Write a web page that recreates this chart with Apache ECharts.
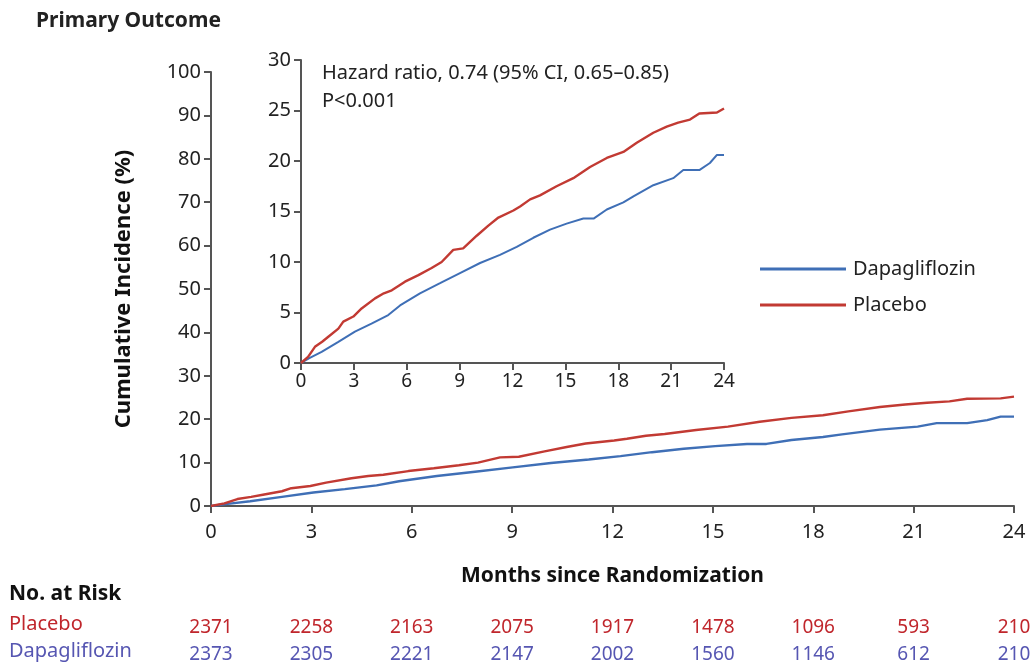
<!DOCTYPE html>
<html>
<head>
<meta charset="utf-8">
<script src="https://cdn.jsdelivr.net/npm/echarts@6/dist/echarts.min.js"></script>
<style>
  html, body { margin: 0; padding: 0; background: #fff; }
  #chart { width: 1036px; height: 671px; }
</style>
</head>
<body>
<div id="chart"></div>
<script>
// Cumulative incidence of the primary outcome, [month, percent]
const placeboCurve = [
  [0, 0], [0.4, 0.6], [0.79, 1.6], [1.2, 2.1], [1.55, 2.6], [2.12, 3.4], [2.4, 4.1],
  [2.97, 4.6], [3.44, 5.4], [4.2, 6.4], [4.7, 6.9], [5.15, 7.2], [5.9, 8.05], [6.66, 8.7],
  [7.41, 9.4], [7.98, 10.0], [8.64, 11.2], [9.2, 11.35], [9.97, 12.6], [10.63, 13.6],
  [11.2, 14.4], [12.05, 15.1], [12.43, 15.5], [13.0, 16.2], [13.56, 16.6], [14.5, 17.5],
  [15.45, 18.3], [16.4, 19.4], [17.35, 20.3], [18.29, 20.9], [19.05, 21.8], [19.99, 22.8],
  [20.75, 23.4], [21.4, 23.8], [22.07, 24.1], [22.6, 24.7], [23.6, 24.8], [24, 25.2]
];
const dapagliflozinCurve = [
  [0, 0], [0.5, 0.5], [1.17, 1.1], [2.12, 2.1], [3.06, 3.1], [4.0, 3.9], [4.95, 4.75],
  [5.62, 5.7], [6.75, 6.9], [7.89, 7.9], [9.02, 8.9], [10.16, 9.9], [11.29, 10.7],
  [12.24, 11.5], [13.18, 12.4], [14.13, 13.2], [15.07, 13.8], [16.02, 14.3],
  [16.6, 14.3], [17.35, 15.2], [18.29, 15.9], [18.86, 16.5], [19.99, 17.6], [21.12, 18.3],
  [21.69, 19.1], [22.6, 19.1], [23.2, 19.8], [23.6, 20.6], [24, 20.6]
];

// Number at risk at each 3-month tick (0..24)
const monthTicks = [0, 3, 6, 9, 12, 15, 18, 21, 24];
const placeboAtRisk = [2371, 2258, 2163, 2075, 1917, 1478, 1096, 593, 210];
const dapagliflozinAtRisk = [2373, 2305, 2221, 2147, 2002, 1560, 1146, 612, 210];

const RED = '#c23a33';
const BLUE = '#3f6fb6';
const RISK_RED = '#c0262c';
const RISK_BLUE = '#5656b2';
const AXIS = '#555';
const TEXT = '#222';
const SANS = "'Noto Sans', 'Open Sans', sans-serif";

function atRiskLabel(arr) {
  return function (v) {
    const i = monthTicks.indexOf(v);
    return i >= 0 ? String(arr[i]) : '';
  };
}

const baseAxisLine = { show: true, lineStyle: { color: AXIS, width: 2 } };
const baseTick = { show: true, length: 7, lineStyle: { color: AXIS, width: 2 } };

const chart = echarts.init(document.getElementById('chart'), null, { renderer: 'canvas' });

chart.setOption({
  backgroundColor: '#fff',
  animation: false,
  title: {
    text: 'Primary Outcome',
    left: 31, top: 6,
    textStyle: { fontFamily: SANS, fontSize: 21, fontWeight: 'bold', color: TEXT }
  },
  legend: {
    data: ['Dapagliflozin', 'Placebo'],
    orient: 'vertical',
    left: 755, top: 254,
    itemWidth: 86, itemHeight: 14, itemGap: 16,
    icon: 'path://M0,0 L86,0 L86,3 L0,3 Z',
    textStyle: { fontFamily: SANS, fontSize: 20, color: TEXT, padding: [0, 0, 0, 2] }
  },
  graphic: [
    {
      type: 'text', left: 9, top: 584,
      style: { text: 'No. at Risk', font: "bold 21px " + SANS, fill: '#111' }
    },
    {
      type: 'text', left: 9, top: 614,
      style: { text: 'Placebo', font: "20px " + SANS, fill: RISK_RED }
    },
    {
      type: 'text', left: 9, top: 641,
      style: { text: 'Dapagliflozin', font: "20px " + SANS, fill: RISK_BLUE }
    },
    {
      type: 'text', left: 322, top: 59,
      style: { text: 'Hazard ratio, 0.74 (95% CI, 0.65\u20130.85)\nP<0.001', font: "20px " + SANS, fill: TEXT, lineHeight: 28 }
    }
  ],
  grid: [
    { left: 211, top: 72, width: 803, height: 434 },
    { left: 301, top: 60, width: 423, height: 303 }
  ],
  xAxis: [
    {
      gridIndex: 0, type: 'value', min: 0, max: 24, interval: 3,
      axisLine: baseAxisLine, axisTick: baseTick, splitLine: { show: false },
      axisLabel: { margin: 16, fontFamily: SANS, fontSize: 20, color: TEXT },
      name: 'Months since Randomization', nameLocation: 'middle', nameGap: 60,
      nameTextStyle: { fontFamily: SANS, fontSize: 21, fontWeight: 'bold', color: '#111' }
    },
    {
      gridIndex: 1, type: 'value', min: 0, max: 24, interval: 3,
      axisLine: baseAxisLine, axisTick: baseTick, splitLine: { show: false },
      axisLabel: { margin: 9, fontFamily: SANS, fontSize: 19, color: TEXT }
    },
    {
      gridIndex: 0, type: 'value', min: 0, max: 24, interval: 3, position: 'bottom', offset: 112,
      axisLine: { show: false }, axisTick: { show: false }, splitLine: { show: false },
      axisLabel: { margin: 0, fontFamily: SANS, fontSize: 19, color: RISK_RED, formatter: atRiskLabel(placeboAtRisk) }
    },
    {
      gridIndex: 0, type: 'value', min: 0, max: 24, interval: 3, position: 'bottom', offset: 139,
      axisLine: { show: false }, axisTick: { show: false }, splitLine: { show: false },
      axisLabel: { margin: 0, fontFamily: SANS, fontSize: 19, color: RISK_BLUE, formatter: atRiskLabel(dapagliflozinAtRisk) }
    }
  ],
  yAxis: [
    {
      gridIndex: 0, type: 'value', min: 0, max: 100, interval: 10,
      axisLine: baseAxisLine, axisTick: baseTick, splitLine: { show: false },
      axisLabel: { margin: 10, fontFamily: SANS, fontSize: 20, color: TEXT },
      name: 'Cumulative Incidence (%)', nameLocation: 'middle', nameGap: 76, nameRotate: 90,
      nameTextStyle: { fontFamily: SANS, fontSize: 22, fontWeight: 'bold', color: '#111' }
    },
    {
      gridIndex: 1, type: 'value', min: 0, max: 30, interval: 5,
      axisLine: baseAxisLine, axisTick: baseTick, splitLine: { show: false },
      axisLabel: { margin: 10, fontFamily: SANS, fontSize: 20, color: TEXT }
    }
  ],
  series: [
    {
      name: 'Dapagliflozin', type: 'line', xAxisIndex: 0, yAxisIndex: 0,
      data: dapagliflozinCurve, symbol: 'none', color: BLUE,
      lineStyle: { color: BLUE, width: 2.4 }, z: 3
    },
    {
      name: 'Placebo', type: 'line', xAxisIndex: 0, yAxisIndex: 0,
      data: placeboCurve, symbol: 'none', color: RED,
      lineStyle: { color: RED, width: 2.4 }, z: 3
    },
    {
      name: 'Dapagliflozin', type: 'line', xAxisIndex: 1, yAxisIndex: 1,
      data: dapagliflozinCurve, symbol: 'none', color: BLUE,
      lineStyle: { color: BLUE, width: 2 }, z: 3
    },
    {
      name: 'Placebo', type: 'line', xAxisIndex: 1, yAxisIndex: 1,
      data: placeboCurve, symbol: 'none', color: RED,
      lineStyle: { color: RED, width: 2.4 }, z: 3
    }
  ]
});
</script>
</body>
</html>
